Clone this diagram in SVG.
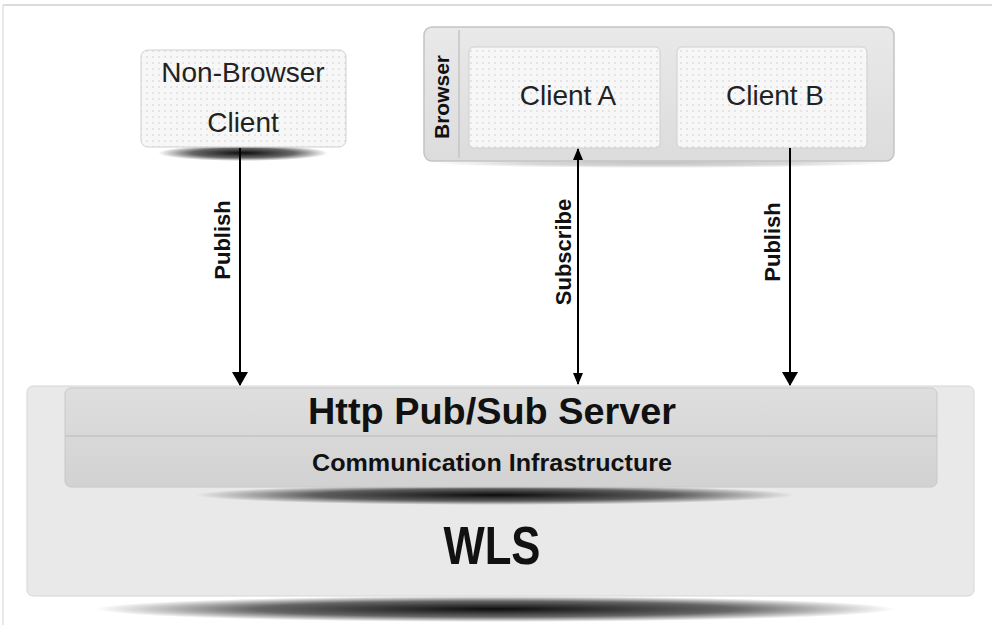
<svg xmlns="http://www.w3.org/2000/svg" width="992" height="625" viewBox="0 0 992 625">
<style>
.lbl{font-family:"Liberation Sans",Arial,sans-serif;fill:#222}
.bold{font-family:"Liberation Sans",Arial,sans-serif;font-weight:bold;fill:#111}
.conn{stroke:#000;stroke-width:2;fill:none}
.node{fill:url(#dots);stroke:#cfcfcf;stroke-width:1}
</style>
<defs>
<pattern id="dots" width="6" height="6" patternUnits="userSpaceOnUse">
<rect width="6" height="6" fill="#f7f7f7"/>
<circle cx="3" cy="3" r="0.7" fill="#c4c4c4"/>
</pattern>
<radialGradient id="shadow" cx="0.5" cy="0.5" r="0.5">
<stop offset="0" stop-color="#000" stop-opacity="0.95"/>
<stop offset="0.6" stop-color="#000" stop-opacity="0.6"/>
<stop offset="1" stop-color="#000" stop-opacity="0"/>
</radialGradient>
<linearGradient id="grey" x1="0" y1="0" x2="0" y2="1">
<stop offset="0" stop-color="#e9e9e9"/>
<stop offset="1" stop-color="#dcdcdc"/>
</linearGradient>
<linearGradient id="band" x1="0" y1="0" x2="0" y2="1">
<stop offset="0" stop-color="#dedede"/>
<stop offset="1" stop-color="#d2d2d2"/>
</linearGradient>
<marker id="arr" viewBox="0 0 14 16" refX="13" refY="8" markerWidth="14" markerHeight="16" markerUnits="userSpaceOnUse" orient="auto">
<path d="M0,0 L14,8 L0,16 Z" fill="#000"/>
</marker>
<marker id="arrs" viewBox="0 0 12 10" refX="11" refY="5" markerWidth="12" markerHeight="10" markerUnits="userSpaceOnUse" orient="auto">
<path d="M0,0 L12,5 L0,10 Z" fill="#000"/>
</marker>
</defs>
<rect width="992" height="625" fill="#fff"/>
<line x1="3" y1="5" x2="992" y2="5" stroke="#cfcfcf" stroke-width="1.5"/>
<line x1="3" y1="5" x2="3" y2="625" stroke="#e2e2e2" stroke-width="1.5"/>

<g id="wls">
<ellipse cx="495" cy="609" rx="400" ry="13" fill="url(#shadow)"/>
<rect x="27" y="386" width="947" height="210" rx="6" fill="#e9e9e9" stroke="#d6d6d6"/>
<text class="bold" x="492" y="564" text-anchor="middle" font-size="54" textLength="97" lengthAdjust="spacingAndGlyphs">WLS</text>
</g>

<g id="server">
<ellipse cx="495" cy="495" rx="300" ry="10" fill="url(#shadow)"/>
<rect x="65" y="388" width="872" height="99" rx="6" fill="url(#band)" stroke="#c8c8c8"/>
<line x1="65" y1="436" x2="937" y2="436" stroke="#c4c4c4" stroke-width="1.5"/>
<text class="bold" x="492" y="424" text-anchor="middle" font-size="37" textLength="368" lengthAdjust="spacingAndGlyphs">Http Pub/Sub Server</text>
<text class="bold" x="492" y="471" text-anchor="middle" font-size="24" textLength="360" lengthAdjust="spacingAndGlyphs">Communication Infrastructure</text>
</g>

<g id="non-browser-client">
<ellipse cx="243" cy="153" rx="85" ry="8" fill="url(#shadow)"/>
<rect x="141" y="50" width="205" height="97" rx="7" class="node"/>
<text class="lbl" x="243" y="82" text-anchor="middle" font-size="28">Non-Browser</text>
<text class="lbl" x="243" y="132" text-anchor="middle" font-size="28">Client</text>
</g>

<g id="browser">
<ellipse cx="660" cy="163" rx="230" ry="5" fill="url(#shadow)" opacity="0.25"/>
<rect x="424" y="27" width="470" height="134" rx="8" fill="url(#grey)" stroke="#c4c4c4" stroke-width="1.5"/>
<line x1="459" y1="30" x2="459" y2="158" stroke="#c4c4c4" stroke-width="1.5"/>
<text class="bold" transform="translate(449,97) rotate(-90)" text-anchor="middle" font-size="21">Browser</text>
</g>

<g id="client-a">
<rect x="469" y="47" width="191" height="101" rx="5" class="node"/>
<text class="lbl" x="568" y="105" text-anchor="middle" font-size="28">Client A</text>
</g>

<g id="client-b">
<rect x="677" y="47" width="190" height="101" rx="5" class="node"/>
<text class="lbl" x="775" y="105" text-anchor="middle" font-size="28">Client B</text>
</g>

<g id="connectors">
<line class="conn" x1="240" y1="148" x2="240" y2="385" marker-end="url(#arr)"/>
<line class="conn" x1="578" y1="384" x2="578" y2="149" marker-end="url(#arrs)"/>
<line class="conn" x1="578" y1="150" x2="578" y2="384" marker-end="url(#arrs)"/>
<line class="conn" x1="790" y1="148" x2="790" y2="385" marker-end="url(#arr)"/>
<text class="bold" transform="translate(230,240) rotate(-90)" text-anchor="middle" font-size="22">Publish</text>
<text class="bold" transform="translate(571,252) rotate(-90)" text-anchor="middle" font-size="22">Subscribe</text>
<text class="bold" transform="translate(780,242) rotate(-90)" text-anchor="middle" font-size="22">Publish</text>
</g>
</svg>
